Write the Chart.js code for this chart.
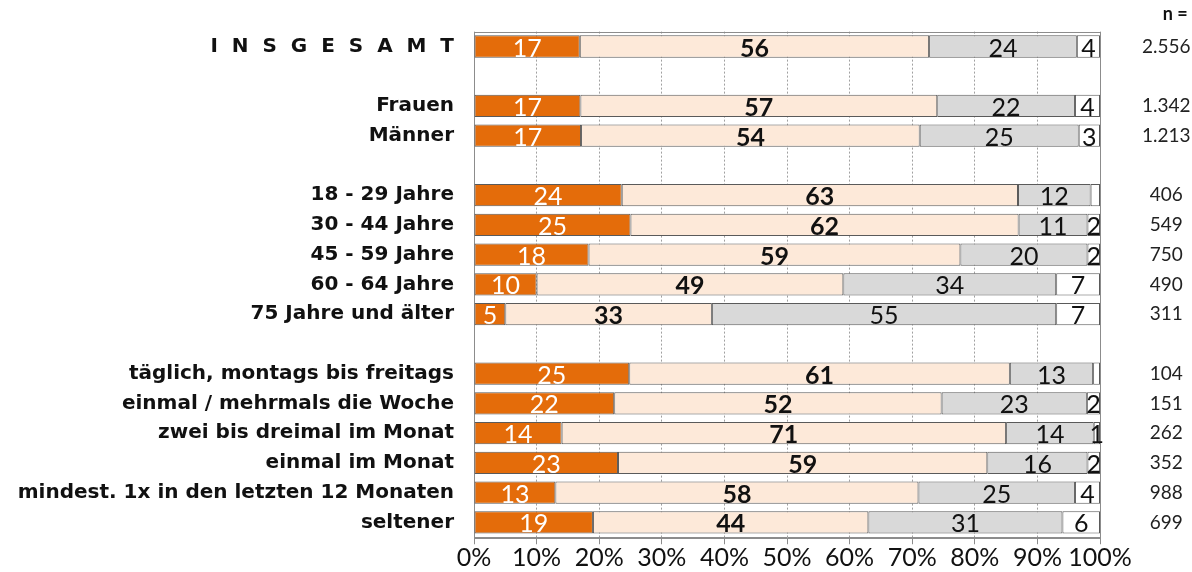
<!DOCTYPE html>
<html lang="de">
<head>
<meta charset="utf-8">
<script src="https://cdn.jsdelivr.net/npm/chart.js@4/dist/chart.umd.min.js"></script>
<style>
  body { margin: 0; background: #fff; }
</style>
</head>
<body>
<canvas id="nutzungChart" width="1192" height="572"></canvas>
<script>
// Kategorien (leere Zeilen = Abstand zwischen den Gruppen)
const kategorien = [
    'I  N  S  G  E  S  A  M  T', '',
    'Frauen', 'Männer', '',
    '18 - 29 Jahre', '30 - 44 Jahre', '45 - 59 Jahre', '60 - 64 Jahre', '75 Jahre und älter', '',
    'täglich, montags bis freitags', 'einmal / mehrmals die Woche', 'zwei bis dreimal im Monat',
    'einmal im Monat', 'mindest. 1x in den letzten 12 Monaten', 'seltener'
];
const fallzahlen = ['2.556', '', '1.342', '1.213', '', '406', '549', '750', '490', '311', '',
    '104', '151', '262', '352', '988', '699'];

// Anteile in Prozent
const orange = [16.9, null, 17, 17.1, null, 23.6, 25, 18.3, 10, 5, null, 24.8, 22.4, 14, 23, 13, 19];
const hell   = [55.8, null, 57, 54.1, null, 63.3, 62, 59.4, 49, 33, null, 60.8, 52.3, 71, 59, 58, 44];
const grau   = [23.6, null, 22, 25.4, null, 11.6, 11, 20.3, 34, 55, null, 13.3, 23.2, 14, 16, 25, 31];
const weiss  = [3.7, null, 4, 3.4, null, 1.5, 2, 2.0, 7, 7, null, 1.1, 2.1, 1, 2, 4, 6];
const ohneBeschriftung = [5, 11]; // Zeilen, in denen der weiße Rest nicht beschriftet ist

const xTicks = [0, 10, 20, 30, 40, 50, 60, 70, 80, 90, 100];

const zahlFont = "Lato, 'Open Sans', sans-serif";

// Werte in die Balken schreiben
const wertePlugin = {
    id: 'werte',
    afterDatasetsDraw(chart) {
        const ctx = chart.ctx;
        ctx.save();
        ctx.textAlign = 'center';
        ctx.textBaseline = 'middle';
        chart.data.datasets.forEach((ds, d) => {
            const meta = chart.getDatasetMeta(d);
            meta.data.forEach((bar, i) => {
                const v = ds.data[i];
                if (v == null) return;
                if (d === 3 && ohneBeschriftung.includes(i)) return;
                ctx.fillStyle = ds.textColor;
                ctx.font = (ds.textBold ? 'bold ' : '') + '25px ' + zahlFont;
                ctx.fillText(Math.round(v), (bar.x + bar.base) / 2, bar.y + 2);
            });
        });
        ctx.restore();
    }
};

// Rahmen um die Zeichenfläche
const rahmenPlugin = {
    id: 'rahmen',
    beforeDatasetsDraw(chart) {
        const a = chart.chartArea;
        const ctx = chart.ctx;
        ctx.save();
        ctx.strokeStyle = '#8c8c8c';
        ctx.lineWidth = 1;
        ctx.strokeRect(Math.round(a.left) + 0.5, Math.round(a.top) + 0.5,
            Math.round(a.right - a.left), Math.round(a.bottom - a.top));
        ctx.restore();
    }
};

const serie = (label, data, farbe, textColor, textBold) => ({
    label, data,
    backgroundColor: farbe,
    borderColor: '#5a5a5a',
    borderWidth: 1,
    borderSkipped: false,
    barPercentage: 0.75,
    categoryPercentage: 1,
    textColor, textBold
});

new Chart(document.getElementById('nutzungChart'), {
    type: 'bar',
    data: {
        labels: kategorien,
        datasets: [
            serie('Anteil 1', orange, '#e46c0a', '#ffffff', false),
            serie('Anteil 2', hell, '#fde9d9', '#111111', true),
            serie('Anteil 3', grau, '#d9d9d9', '#111111', false),
            serie('Anteil 4', weiss, '#ffffff', '#111111', false)
        ]
    },
    options: {
        indexAxis: 'y',
        responsive: false,
        animation: false,
        layout: { padding: 0 },
        plugins: {
            legend: { display: false },
            tooltip: { enabled: false },
            title: {
                display: true,
                text: 'n = ',
                align: 'end',
                color: '#111',
                font: { family: zahlFont, size: 18, weight: 'bold' },
                padding: { top: 3, bottom: 7 }
            }
        },
        scales: {
            x: {
                stacked: true,
                min: 0,
                max: 100,
                afterBuildTicks: s => { s.ticks = xTicks.map(v => ({ value: v })); },
                grid: { color: '#a0a0a0', tickLength: 7, tickColor: '#8c8c8c' },
                border: { color: '#8c8c8c', dash: [2, 2] },
                ticks: {
                    color: '#111',
                    padding: 2,
                    autoSkip: false,
                    maxRotation: 0,
                    minRotation: 0,
                    font: { family: zahlFont, size: 25, lineHeight: 0.95 },
                    callback: v => v + '%'
                }
            },
            y: {
                stacked: true,
                afterFit: s => { s.width = 474; s.paddingTop = 0; s.paddingBottom = 0; },
                grid: { display: false, drawTicks: false },
                border: { display: false },
                ticks: {
                    autoSkip: false,
                    padding: 20,
                    color: '#111',
                    font: { family: "'DejaVu Sans', Verdana, sans-serif", size: 20, weight: 'bold' }
                }
            },
            y2: {
                type: 'category',
                labels: fallzahlen,
                position: 'right',
                offset: true,
                afterFit: s => { s.width = 92; s.paddingTop = 0; s.paddingBottom = 0; },
                grid: { display: false, drawTicks: false },
                border: { display: false },
                ticks: {
                    autoSkip: false,
                    crossAlign: 'center',
                    padding: 42,
                    color: '#222',
                    font: { family: zahlFont, size: 19 }
                }
            }
        }
    },
    plugins: [wertePlugin, rahmenPlugin]
});
</script>
</body>
</html>
